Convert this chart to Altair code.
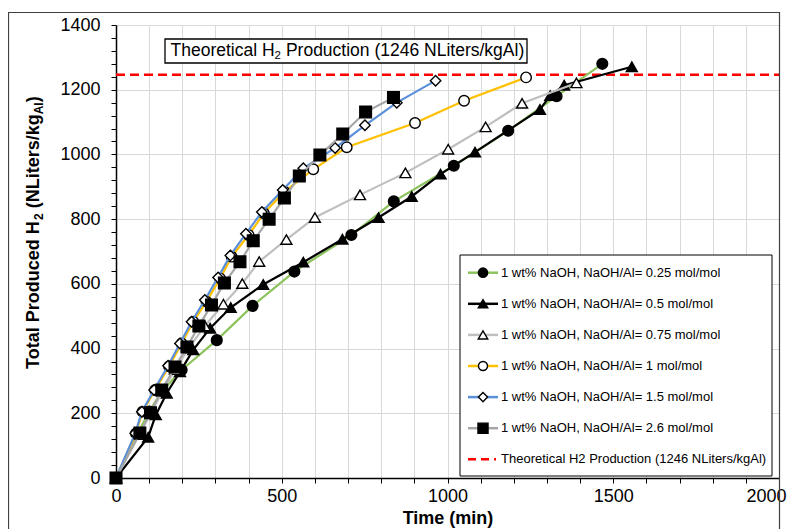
import altair as alt
import pandas as pd

# ---------------- data ----------------
labels = [
    "1 wt% NaOH, NaOH/Al= 0.25 mol/mol",
    "1 wt% NaOH, NaOH/Al= 0.5 mol/mol",
    "1 wt% NaOH, NaOH/Al= 0.75 mol/mol",
    "1 wt% NaOH, NaOH/Al= 1 mol/mol",
    "1 wt% NaOH, NaOH/Al= 1.5 mol/mol",
    "1 wt% NaOH, NaOH/Al= 2.6 mol/mol",
]
theo_label = "Theoretical H2 Production (1246 NLiters/kgAl)"

t_025 = [0, 65, 100, 140, 198, 304, 412, 538, 710, 838, 1019, 1183, 1329, 1467]
h_025 = [0, 137, 205, 270, 334, 426, 532, 638, 751, 855, 965, 1073, 1180, 1280]

t_05 = [0, 97, 120, 153, 193, 233, 284, 346, 444, 565, 683, 792, 892, 979, 1083, 1279, 1310, 1352, 1556]
h_05 = [0, 126, 195, 262, 328, 396, 463, 527, 598, 667, 738, 805, 870, 939, 1007, 1139, 1182, 1214, 1271]

t_075 = [0, 70, 105, 140, 178, 220, 268, 324, 381, 432, 514, 600, 736, 873, 1002, 1115, 1225, 1389]
h_075 = [0, 134, 200, 268, 335, 402, 470, 537, 601, 669, 737, 805, 875, 943, 1016, 1085, 1158, 1221]

t_1 = [0, 60, 80, 118, 160, 198, 233, 273, 314, 349, 400, 446, 508, 595, 696, 902, 1050, 1237]
h_1 = [0, 138, 205, 272, 345, 416, 483, 545, 617, 684, 751, 818, 885, 954, 1022, 1097, 1166, 1238]

t_15 = [0, 58, 78, 115, 157, 193, 228, 268, 308, 345, 392, 440, 503, 565, 661, 751, 847, 964]
h_15 = [0, 138, 205, 272, 347, 416, 483, 550, 620, 688, 755, 822, 890, 957, 1020, 1090, 1160, 1228]

t_26 = [0, 72, 104, 138, 178, 214, 250, 288, 327, 374, 414, 462, 508, 553, 615, 684, 753, 837]
h_26 = [0, 139, 202, 272, 343, 405, 470, 535, 603, 668, 733, 800, 865, 933, 998, 1063, 1131, 1176]

theo_t = [0, 2000]
theo_h = [1246, 1246]

x_ticks = list(range(0, 2001, 100))
y_ticks = list(range(0, 1401, 40))

# ---------------- styles ----------------
FONT = "Liberation Sans"
W, H = 663, 453

styles = [
    dict(color="#8cc35c", shape="circle", fill="#000000", size=115),
    dict(color="#000000", shape="triangle-up", fill="#000000", size=120),
    dict(color="#bfbfbf", shape="triangle-up", fill="#ffffff", size=120),
    dict(color="#ffc000", shape="circle", fill="#ffffff", size=110),
    dict(color="#5b8fd9", shape="diamond", fill="#ffffff", size=110),
    dict(color="#a6a6a6", shape="square", fill="#000000", size=135),
]
series_t = [t_025, t_05, t_075, t_1, t_15, t_26]
series_h = [h_025, h_05, h_075, h_1, h_15, h_26]

x_scale = alt.Scale(domain=[0, 2000], nice=False, zero=False)
y_scale = alt.Scale(domain=[0, 1400], nice=False, zero=False)

x_axis = alt.Axis(
    values=x_ticks, format="d",
    labelExpr="datum.value % 500 === 0 ? datum.label : ''",
    labelOverlap=False, labelFlush=False,
    labelOffset={"condition": {"test": "datum.value === 2000", "value": -13}, "value": 0},
    grid=True, gridColor="#d9d9d9", gridWidth=1,
    domainColor="#000000", domainWidth=1.5,
    tickColor="#000000", tickSize=5, tickWidth=1,
    labelFont=FONT, labelFontSize=18, labelColor="#000000", labelPadding=4,
    title="Time (min)", titleFont=FONT, titleFontSize=18, titleFontWeight="bold",
    titleColor="#000000", titlePadding=4,
)
y_axis = alt.Axis(
    values=y_ticks, format="d",
    labelExpr="datum.value % 200 === 0 ? datum.label : ''",
    labelOverlap=False,
    grid=True, gridColor="#d9d9d9", gridWidth=1,
    gridOpacity={"condition": {"test": "datum.value % 200 === 0", "value": 1}, "value": 0},
    domainColor="#000000", domainWidth=1.5,
    tickColor="#000000", tickSize=5, tickWidth=1,
    labelFont=FONT, labelFontSize=18, labelColor="#000000", labelPadding=11,
    title=None,
)

X = alt.X("t:Q", scale=x_scale, axis=x_axis)
Y = alt.Y("h:Q", scale=y_scale, axis=y_axis)

one = pd.DataFrame({"a": [0]})
layers = []

# theoretical line (drawn under the data)
theo_df = pd.DataFrame({"t": theo_t, "h": theo_h})
layers.append(alt.Chart(theo_df).mark_line(color="#ff0000", strokeWidth=2.5, strokeDash=[9, 5]).encode(x=X, y=Y))

for t, h, st in zip(series_t, series_h, styles):
    df = pd.DataFrame({"t": t, "h": h})
    base = alt.Chart(df)
    layers.append(base.mark_line(color=st["color"], strokeWidth=2.2).encode(x=X, y=Y))
    layers.append(base.mark_point(shape=st["shape"], size=st["size"], filled=True, fill=st["fill"],
                                  stroke="#000000", strokeWidth=1.4, opacity=1).encode(x=X, y=Y))

# ---------------- annotation text box ----------------
layers.append(alt.Chart(one).mark_rect(fill="#ffffff", stroke="#000000", strokeWidth=1.3).encode(
    x=alt.value(49), x2=alt.value(411), y=alt.value(14), y2=alt.value(38)))
layers.append(alt.Chart(one).mark_text(text="Theoretical H", font=FONT, fontSize=17.5, align="left",
                                       baseline="middle", color="#000000").encode(x=alt.value(54.5), y=alt.value(26)))
layers.append(alt.Chart(one).mark_text(text="2", font=FONT, fontSize=11.5, align="left",
                                       baseline="middle", color="#000000").encode(x=alt.value(158.6), y=alt.value(31)))
layers.append(alt.Chart(one).mark_text(text="Production (1246 NLiters/kgAl)", font=FONT, fontSize=17.5, align="left",
                                       baseline="middle", color="#000000").encode(x=alt.value(169.9), y=alt.value(26)))

# ---------------- y axis title (rotated, with subscripts) ----------------
ytitle_parts = [
    ("Total Produced H", 18, -82, 344),
    ("2", 12, -77, 195.0),
    ("(NLiters/kg", 18, -82, 183.3),
    ("Al", 12, -77, 89.3),
    (")", 18, -82, 77.3),
]
for txt, fs, xx, yy in ytitle_parts:
    layers.append(alt.Chart(one).mark_text(text=txt, font=FONT, fontSize=fs, fontWeight="bold", angle=270,
                                           align="left", baseline="middle", color="#000000").encode(
        x=alt.value(xx), y=alt.value(yy)))

# ---------------- legend ----------------
layers.append(alt.Chart(one).mark_rect(fill="#ffffff", stroke="#000000", strokeWidth=1).encode(
    x=alt.value(344), x2=alt.value(656), y=alt.value(230), y2=alt.value(451)))
row0, row_step = 247.7, 31.1
for i, (lab, st) in enumerate(zip(labels, styles)):
    yy = row0 + i * row_step
    layers.append(alt.Chart(one).mark_rule(color=st["color"], strokeWidth=2.5).encode(
        x=alt.value(352), x2=alt.value(382), y=alt.value(yy)))
    layers.append(alt.Chart(one).mark_point(shape=st["shape"], size=st["size"] * 0.75, filled=True, fill=st["fill"],
                                            stroke="#000000", strokeWidth=1.4, opacity=1).encode(
        x=alt.value(367), y=alt.value(yy)))
    layers.append(alt.Chart(one).mark_text(text=lab, font=FONT, fontSize=13, align="left", baseline="middle",
                                           color="#000000").encode(x=alt.value(385), y=alt.value(yy)))
yy = row0 + 6 * row_step
layers.append(alt.Chart(one).mark_rule(color="#ff0000", strokeWidth=2.5, strokeDash=[8, 5]).encode(
    x=alt.value(352), x2=alt.value(380), y=alt.value(yy)))
layers.append(alt.Chart(one).mark_text(text=theo_label, font=FONT, fontSize=13, align="left", baseline="middle",
                                       color="#000000").encode(x=alt.value(385), y=alt.value(yy)))

# ---------------- outer chart frame ----------------
layers.append(alt.Chart(one).mark_rect(fill="transparent", stroke="#404040", strokeWidth=1.2).encode(
    x=alt.value(-107.5), x2=alt.value(663.5), y=alt.value(-12.5), y2=alt.value(540)))

chart = alt.layer(*layers).properties(
    width=W, height=H,
    autosize=alt.AutoSizeParams(type="none"),
    padding={"left": 108, "top": 17, "right": 8, "bottom": 51},
).configure_view(strokeWidth=0)

chart.save("out.html", embed_options={"renderer": "svg", "actions": False})
